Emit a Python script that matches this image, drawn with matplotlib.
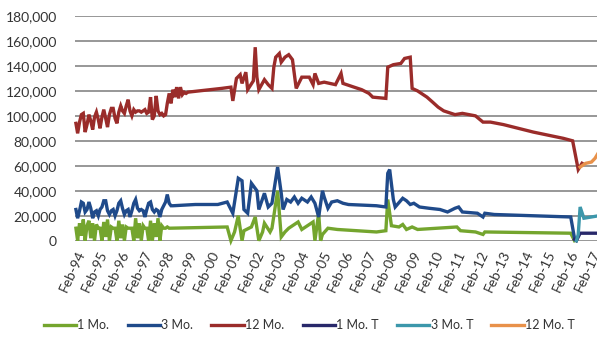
import matplotlib
matplotlib.use("Agg")
import matplotlib.pyplot as plt
import matplotlib.dates as mdates
import matplotlib.ticker as mticker
import pandas as pd
from datetime import datetime

# ---- data (values in thousands) ----
# monthly block at the start of each bill series
red_early = [94, 86, 95, 101, 102, 87, 93, 101, 96, 89,
             99, 103, 97, 90, 99, 105, 98, 91, 101, 106,
             106, 98, 94, 103, 108, 104, 102, 108, 113, 104,
             100, 105, 103, 104, 104, 103, 104, 105, 102, 103,
             115, 97, 100, 116, 104, 101, 102, 100, 101, 110,
             118, 110, 121, 115, 123, 114, 123, 117, 119, 118, 119]
red_dates = ["1999-08", "2000-02", "2000-08", "2001-01", "2001-02", "2001-04", "2001-06",
             "2001-07", "2001-09", "2001-10", "2002-01", "2002-02", "2002-03", "2002-04",
             "2002-07", "2002-09", "2002-11", "2002-12", "2003-01", "2003-03", "2003-04",
             "2003-06", "2003-08", "2003-10", "2003-12", "2004-03", "2004-07", "2004-09",
             "2004-10", "2004-12", "2005-03", "2005-09", "2005-12", "2006-01", "2006-07",
             "2006-11", "2007-03", "2007-05", "2007-12", "2008-01", "2008-04", "2008-08",
             "2008-10", "2009-01", "2009-02", "2009-05", "2009-07", "2009-10", "2010-01",
             "2010-04", "2010-07", "2011-01", "2011-05", "2011-12", "2012-04", "2012-08",
             "2013-03", "2014-07", "2015-11", "2016-04", "2016-07", "2016-09"]
red_vals = [120, 121, 122, 123, 112, 130, 133,
            126, 135, 121, 128, 155, 131, 121,
            129, 125, 122, 139, 147, 150, 143,
            147, 149, 145, 122, 131, 131, 125,
            134, 126, 127, 125, 134, 126, 123,
            121, 118, 115, 114, 139, 141, 142,
            146, 147, 122, 120, 118, 115, 111,
            107, 104, 101, 102, 100, 95, 95,
            93, 87, 82, 80, 57, 62]

blue_early = [25, 18, 24, 31, 30, 23, 25, 31, 26, 18,
              23, 24, 20, 25, 27, 32, 32, 24, 21, 24,
              25, 20, 24, 30, 32, 26, 21, 24, 25, 19,
              24, 30, 33, 26, 24, 25, 24, 19, 25, 30,
              31, 25, 23, 25, 24, 19, 25, 28, 31, 37,
              30, 28, 28]
blue_dates = ["1999-06", "2000-06", "2000-11", "2001-02", "2001-05", "2001-07", "2001-08",
              "2001-10", "2001-12", "2002-03", "2002-04", "2002-07", "2002-09", "2002-11",
              "2003-02", "2003-04", "2003-05", "2003-07", "2003-09", "2003-11", "2004-01",
              "2004-03", "2004-06", "2004-08", "2004-10", "2004-12", "2005-02", "2005-03",
              "2005-05", "2005-07", "2005-10", "2006-01", "2006-04", "2007-07", "2007-12",
              "2008-01", "2008-02", "2008-04", "2008-05", "2008-09", "2008-11", "2009-01",
              "2009-03", "2009-06", "2009-11", "2010-05", "2010-09", "2011-01", "2011-03",
              "2011-05", "2012-01", "2012-04", "2012-05", "2012-10", "2016-03", "2016-05"]
blue_vals = [29, 29, 31, 22, 50, 48, 25,
             22, 46, 40, 25, 38, 27, 30,
             59, 38, 25, 33, 31, 35, 30,
             34, 31, 35, 30, 19, 40, 35,
             26, 31, 32, 30, 29, 28, 27,
             54, 57, 33, 27, 34, 32, 29,
             30, 27, 26, 25, 23, 26, 27,
             23, 22, 19, 22, 21, 19, 2]

green_early = [10, 0, 14, 4, 17, 0, 12, 16, 2, 14,
               0, 13, 10, 10, 0, 15, 3, 17, 0, 11,
               10, 10, 0, 16, 2, 13, 0, 11, 10, 10,
               10, 0, 18, 2, 14, 0, 12, 10, 10, 0,
               16, 0, 14, 3, 18, 0, 12, 10, 10, 11, 10]
green_dates = ["2000-11", "2001-01", "2001-03", "2001-05", "2001-07", "2001-08", "2001-12",
               "2002-02", "2002-04", "2002-06", "2002-07", "2002-10", "2002-11", "2003-02",
               "2003-04", "2003-06", "2003-08", "2004-01", "2004-03", "2004-06", "2004-09",
               "2004-10", "2004-12", "2005-01", "2005-02", "2005-05", "2005-10", "2007-07",
               "2007-12", "2008-01", "2008-03", "2008-07", "2008-09", "2008-11", "2009-02",
               "2009-05", "2011-02", "2011-04", "2011-12", "2012-04", "2012-05", "2016-03",
               "2016-05"]
green_vals = [11, 0, 7, 20, 0, 8, 11,
              19, 0, 7, 14, 7, 10, 40,
              3, 7, 10, 15, 9, 12, 15,
              0, 22, 0, 5, 10, 9, 7,
              8, 33, 12, 11, 13, 9, 11,
              9, 11, 8, 7, 5, 7, 6,
              0]

t1_dates = ["2016-05", "2016-06", "2016-08", "2017-06"]
t1_vals = [1, 0, 6, 6]
t3_dates = ["2016-06", "2016-07", "2016-08", "2016-10", "2017-02", "2017-06"]
t3_vals = [0, 5, 27, 18, 19, 20]
t12_dates = ["2016-08", "2016-11", "2017-02", "2017-04", "2017-06"]
t12_vals = [59, 62, 63, 66, 71]

labels = ["1 Mo.", "3 Mo.", "12 Mo.", "1 Mo. T", "3 Mo. T", "12 Mo. T"]
colors = ["#74A52E", "#1F4A8A", "#9A2C2A", "#28286A", "#3C97AB", "#E8914A"]


def series(early, dates, vals):
    idx = list(pd.date_range("1994-02-01", periods=len(early), freq="MS")) if early else []
    idx += list(pd.to_datetime(dates))
    return idx, [v * 1000 for v in (list(early) + list(vals))]


data = [
    series(green_early, green_dates, green_vals),
    series(blue_early, blue_dates, blue_vals),
    series(red_early, red_dates, red_vals),
    series([], t1_dates, t1_vals),
    series([], t3_dates, t3_vals),
    series([], t12_dates, t12_vals),
]

plt.rcParams["font.family"] = ["Lato", "DejaVu Sans"]
fig = plt.figure(figsize=(5.97, 3.38), dpi=100)
ax = fig.add_axes([75 / 597, 1 - 240.7 / 338, 1 - 75 / 597, (240.7 - 16) / 338])

for (x, y), lab, c in zip(data, labels, colors):
    ax.plot(x, y, color=c, lw=2.4, label=lab, clip_on=False, solid_joinstyle="miter", zorder=3)

ax.set_ylim(0, 180000)
ax.set_xlim(datetime(1994, 1, 17), datetime(2017, 5, 3))
ax.yaxis.set_major_locator(mticker.MultipleLocator(20000))
ax.yaxis.set_major_formatter(mticker.FuncFormatter(lambda v, p: f"{v:,.0f}"))
ax.grid(axis="y", color="#858585", lw=1.2, zorder=0)
for s in ax.spines.values():
    s.set_visible(False)

ax.set_xticks([datetime(y, 2, 1) for y in range(1994, 2018)])
ax.xaxis.set_major_formatter(mdates.DateFormatter("%b-%y"))
ax.tick_params(axis="y", length=0, pad=13, labelsize=10, labelcolor="#333333")
ax.tick_params(axis="x", length=0, pad=6, labelsize=10, labelcolor="#333333")
for t in ax.get_xticklabels():
    t.set_rotation(65)
    t.set_ha("right")
    t.set_va("top")
    t.set_rotation_mode("anchor")

fig.legend(loc="center", bbox_to_anchor=(0.518, 0.038), ncol=6, frameon=False,
           fontsize=9, handlelength=2.6, handletextpad=0.1, columnspacing=1.45,
           labelcolor="#333333")

fig.savefig("out.png", dpi=100)
